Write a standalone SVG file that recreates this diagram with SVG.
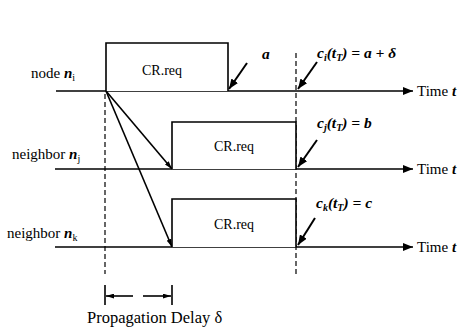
<svg xmlns="http://www.w3.org/2000/svg" width="461" height="331" viewBox="0 0 461 331" font-family="'Liberation Serif', 'Times New Roman', 'DejaVu Serif', serif">
<defs>
<marker id="ah" viewBox="0 0 10 8" refX="10" refY="4" markerWidth="10" markerHeight="8" markerUnits="userSpaceOnUse" orient="auto"><path d="M0,0 L10,4 L0,8 z" fill="#000"/></marker>
<marker id="ahs" viewBox="0 0 10 6" refX="10" refY="3" markerWidth="8" markerHeight="5" markerUnits="userSpaceOnUse" orient="auto"><path d="M0,0 L10,3 L0,6 z" fill="#000"/></marker>
</defs>
<style>
text{fill:#000}
.t{font-size:15px}
.lb{font-size:15px}
.cr{font-size:14px}
.eq{font-size:15.5px}
.v{font-weight:bold;font-style:italic}
.s{font-size:10px}
.box{fill:#fff;stroke:#000;stroke-width:1.6}
.ln{stroke:#000;stroke-width:1.6;fill:none}
.dash{stroke:#000;stroke-width:1.2;stroke-dasharray:5,3;fill:none}
.pt{stroke:#000;stroke-width:2;fill:none}
</style>
<g id="connectors">
<line class="ln" x1="56" y1="91" x2="413" y2="91" marker-end="url(#ah)"/>
<line class="ln" x1="55" y1="169" x2="413" y2="169" marker-end="url(#ah)"/>
<line class="ln" x1="55" y1="247" x2="413" y2="247" marker-end="url(#ah)"/>
<line class="dash" x1="105" y1="94" x2="105" y2="274"/>
<line class="dash" x1="296" y1="53" x2="296" y2="274"/>
<line class="ln" x1="106" y1="91" x2="172" y2="169" marker-end="url(#ahs)"/>
<line class="ln" x1="106" y1="91" x2="172" y2="247" marker-end="url(#ahs)"/>
<line class="pt" x1="247" y1="63" x2="229" y2="89" marker-end="url(#ah)"/>
<line class="pt" x1="317" y1="62" x2="298" y2="89" marker-end="url(#ah)"/>
<line class="pt" x1="317" y1="140" x2="298" y2="167" marker-end="url(#ah)"/>
<line class="pt" x1="315" y1="218" x2="298" y2="245" marker-end="url(#ah)"/>
</g>
<g id="node-i">
<text class="lb" x="31" y="78">node <tspan class="v">n</tspan><tspan class="s" dy="3">i</tspan></text>
<path class="box" d="M106,91 V43 H228 V91"/>
<text class="cr" x="162" y="75" text-anchor="middle">CR.req</text>
<text class="t" x="417" y="96">Time <tspan class="v">t</tspan></text>
</g>
<g id="node-j">
<text class="lb" x="12" y="159">neighbor <tspan class="v">n</tspan><tspan class="s" dy="3">j</tspan></text>
<path class="box" d="M172,169 V122 H296 V169"/>
<text class="cr" x="234" y="151" text-anchor="middle">CR.req</text>
<text class="t" x="417" y="174">Time <tspan class="v">t</tspan></text>
</g>
<g id="node-k">
<text class="lb" x="7" y="238">neighbor <tspan class="v">n</tspan><tspan class="s" dy="3">k</tspan></text>
<path class="box" d="M172,247 V199 H296 V247"/>
<text class="cr" x="234" y="229" text-anchor="middle">CR.req</text>
<text class="t" x="417" y="252">Time <tspan class="v">t</tspan></text>
</g>
<g id="labels">
<text class="eq v" x="262" y="59">a</text>
<text class="eq v" x="317" y="58">c<tspan class="s" dy="3">i</tspan><tspan dy="-3">(t</tspan><tspan class="s" dy="3">T</tspan><tspan dy="-3">) = a + δ</tspan></text>
<text class="eq v" x="317" y="128">c<tspan class="s" dy="3">j</tspan><tspan dy="-3">(t</tspan><tspan class="s" dy="3">T</tspan><tspan dy="-3">) = b</tspan></text>
<text class="eq v" x="316" y="208">c<tspan class="s" dy="3">k</tspan><tspan dy="-3">(t</tspan><tspan class="s" dy="3">T</tspan><tspan dy="-3">) = c</tspan></text>
</g>
<g id="delay">
<line class="ln" x1="105" y1="285" x2="105" y2="305"/>
<line class="ln" x1="172" y1="285" x2="172" y2="305"/>
<line class="ln" x1="133" y1="296" x2="106" y2="296" marker-end="url(#ahs)"/>
<line class="ln" x1="143" y1="296" x2="171" y2="296" marker-end="url(#ahs)"/>
<text x="87" y="323" font-size="16.5">Propagation Delay δ</text>
</g>
</svg>
